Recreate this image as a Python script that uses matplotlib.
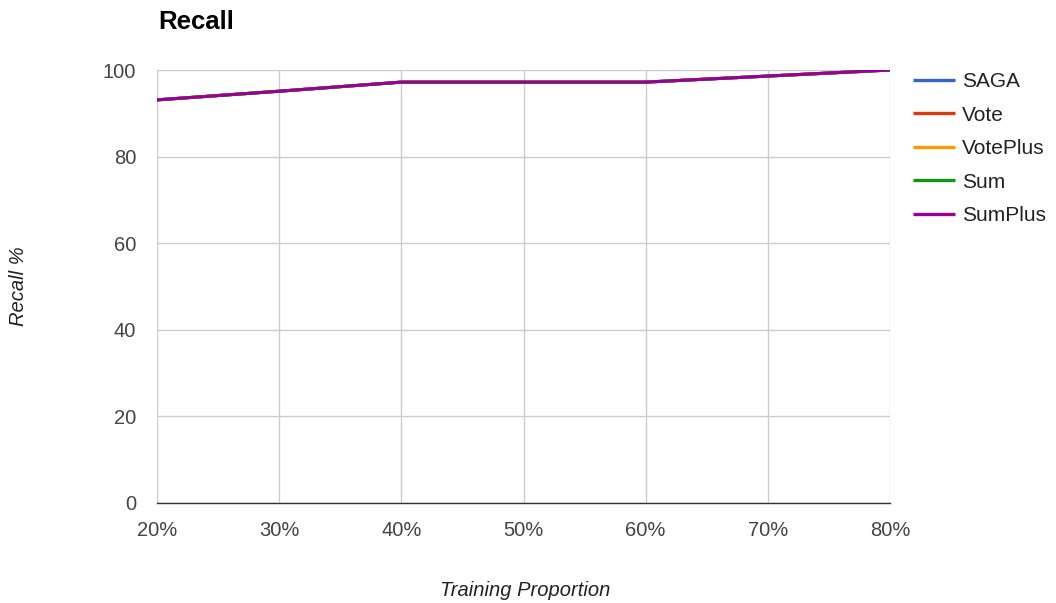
import matplotlib.pyplot as plt

plt.rcParams['font.family'] = ['Liberation Sans', 'DejaVu Sans']

proportions = [0.2, 0.3, 0.4, 0.5, 0.6, 0.7, 0.8]
tick_labels = ['20%', '30%', '40%', '50%', '60%', '70%', '80%']

saga = [93.1, 95.1, 97.2, 97.2, 97.2, 98.6, 100.0]
vote = [93.1, 95.1, 97.2, 97.2, 97.2, 98.6, 100.0]
vote_plus = [93.1, 95.1, 97.2, 97.2, 97.2, 98.6, 100.0]
sum_ = [93.1, 95.1, 97.2, 97.2, 97.2, 98.6, 100.0]
sum_plus = [93.1, 95.1, 97.2, 97.2, 97.2, 98.6, 100.0]

series = [('SAGA', saga, '#3366cc'),
          ('Vote', vote, '#dc3912'),
          ('VotePlus', vote_plus, '#ff9900'),
          ('Sum', sum_, '#109618'),
          ('SumPlus', sum_plus, '#990099')]

fig = plt.figure(figsize=(10.56, 6.03), dpi=100)
ax = fig.add_axes([157 / 1056, 1 - 503 / 603, (890 - 157) / 1056, (503 - 70) / 603])

for name, vals, color in series:
    ax.plot(proportions, vals, color=color, lw=2.2, label=name, solid_capstyle='butt')

ax.set_xlim(0.2, 0.8)
ax.set_ylim(0, 100)
ax.set_xticks(proportions)
ax.set_xticklabels(tick_labels)
ax.set_yticks([0, 20, 40, 60, 80, 100])
ax.grid(True, color='#cccccc', lw=1)
ax.set_axisbelow(True)
for side in ['top', 'right', 'left']:
    ax.spines[side].set_visible(False)
ax.spines['bottom'].set_color('#333333')
ax.spines['bottom'].set_linewidth(1)
ax.tick_params(length=0, labelsize=14.5, labelcolor='#444444')
ax.tick_params(axis='y', pad=15)
ax.tick_params(axis='x', pad=13)

fig.text(158 / 1056, 1 - 22 / 603, 'Recall', fontsize=18.5, fontweight='bold', va='center', ha='left')
fig.text(525 / 1056, 1 - 590 / 603, 'Training Proportion', fontsize=14.5, style='italic',
         color='#222222', ha='center', va='center')
fig.text(18 / 1056, 1 - 286 / 603, 'Recall %', fontsize=14.5, style='italic', color='#222222',
         rotation=90, ha='center', va='center')

fig.legend(loc='upper left', bbox_to_anchor=(913 / 1056, 1 - 72 / 603), frameon=False,
           fontsize=15, handlelength=2.0, handletextpad=0.35, labelspacing=0.7,
           borderpad=0, borderaxespad=0, labelcolor='#222222')
for line in fig.legends[0].get_lines():
    line.set_linewidth(2.4)

fig.savefig('out.png', dpi=100)
